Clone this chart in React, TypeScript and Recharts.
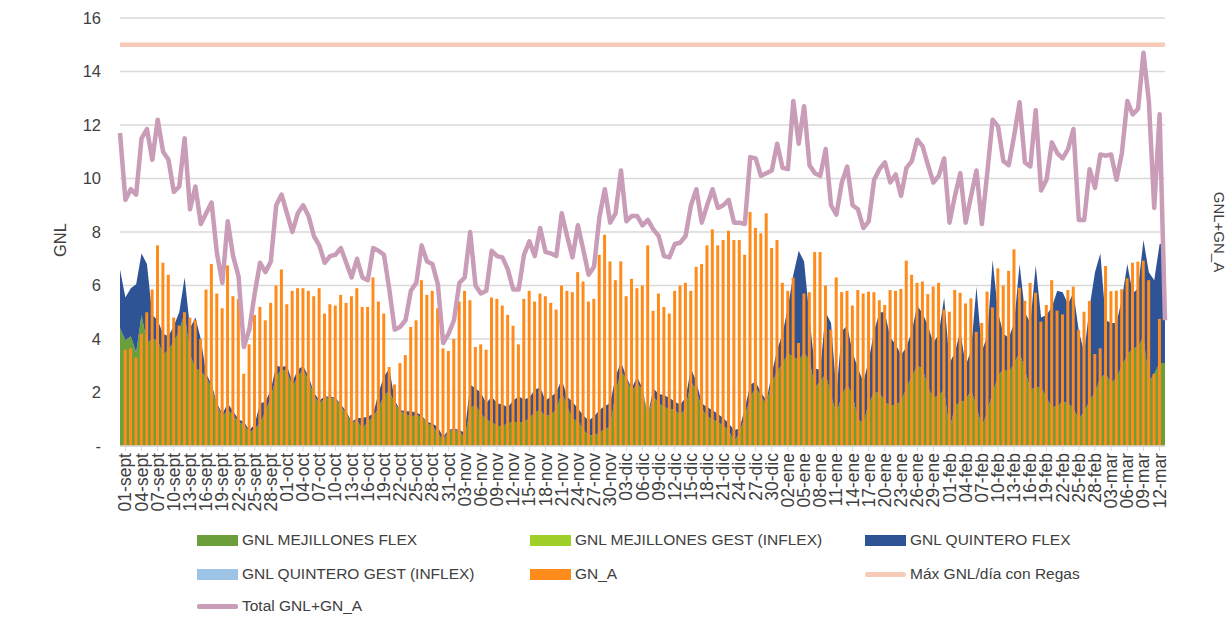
import React from 'react';
import { ComposedChart, Area, Bar, Line, XAxis, YAxis, CartesianGrid } from 'recharts';

// Row 0 = 31-ago (plot left edge), rows 1..193 = 01-sept .. 12-mar, row 194 = 13-mar (plot right edge)
const FIRST_DAY = -1;
const TICK_STEP = 3;
const TICK_LABELS = [
  '01-sept', '04-sept', '07-sept', '10-sept', '13-sept', '16-sept', '19-sept', '22-sept', '25-sept', '28-sept',
  '01-oct', '04-oct', '07-oct', '10-oct', '13-oct', '16-oct', '19-oct', '22-oct', '25-oct', '28-oct', '31-oct',
  '03-nov', '06-nov', '09-nov', '12-nov', '15-nov', '18-nov', '21-nov', '24-nov', '27-nov', '30-nov',
  '03-dic', '06-dic', '09-dic', '12-dic', '15-dic', '18-dic', '21-dic', '24-dic', '27-dic', '30-dic',
  '02-ene', '05-ene', '08-ene', '11-ene', '14-ene', '17-ene', '20-ene', '23-ene', '26-ene', '29-ene',
  '01-feb', '04-feb', '07-feb', '10-feb', '13-feb', '16-feb', '19-feb', '22-feb', '25-feb', '28-feb',
  '03-mar', '06-mar', '09-mar', '12-mar',
];

const GNL_MEJILLONES_FLEX = [
  4.4,
  3.95, 4.1, 3.5, 4.9, 3.85, 4.0, 3.95, 3.4, 3.6, 3.9,
  4.3, 5.0, 3.4, 2.9, 2.8, 2.55, 2.2, 1.5, 1.1, 1.35,
  1.15, 0.9, 0.8, 0.5, 0.65, 0.85, 1.3, 1.8, 2.6, 2.85,
  2.8, 2.2, 2.6, 2.85, 2.45, 1.9, 1.55, 1.8, 1.8, 1.75,
  1.5, 1.2, 0.85, 0.95, 0.65, 0.9, 1.1, 1.4, 1.9, 2.05,
  1.6, 1.3, 1.2, 1.1, 1.15, 1.1, 0.85, 0.75, 0.5, 0.2,
  0.55, 0.6, 0.55, 0.3, 1.4, 1.55, 1.2, 1.0, 0.9, 0.75,
  0.75, 0.85, 0.9, 0.9, 0.9, 1.05, 1.25, 1.35, 1.1, 1.2,
  1.35, 2.0, 1.5, 1.0, 0.95, 0.6, 0.4, 0.4, 0.5, 0.65,
  0.7, 2.0, 2.8, 2.5, 2.05, 2.35, 2.1, 1.1, 1.85, 1.6,
  1.45, 1.4, 1.35, 1.15, 1.4, 2.4, 2.1, 1.4, 1.1, 1.0,
  0.9, 0.75, 0.6, 0.15, 0.5, 1.1, 1.8, 2.2, 1.85, 1.55,
  2.4, 2.75, 3.1, 3.45, 3.35, 3.2, 3.5, 3.2, 2.2, 2.4,
  2.7, 1.9, 1.2, 1.9, 2.3, 1.9, 1.0, 0.85, 1.6, 2.0,
  2.0, 1.65, 1.5, 1.55, 1.65, 2.2, 2.6, 3.0, 2.9, 2.2,
  1.8, 1.9, 2.1, 0.6, 1.5, 1.65, 1.7, 2.1, 1.5, 0.7,
  1.3, 2.0, 2.6, 2.9, 2.75, 3.1, 3.5, 2.85, 2.1, 2.2,
  2.2, 1.8, 1.45, 1.5, 1.65, 1.6, 1.4, 1.0, 1.3, 1.7,
  2.0, 2.55, 2.7, 2.35, 2.55, 3.0, 3.4, 3.65, 3.7, 4.1,
  2.4, 2.7, 3.1,
  3.1,
];

const GNL_QUINTERO_FLEX = [
  2.2,
  1.6, 1.8, 2.55, 2.3, 2.95, 0.9, 0.75, 0.8, 0.5, 0.6,
  0.7, 1.3, 1.0, 1.9, 1.2, 0.15, 0.1, 0.1, 0.1, 0.25,
  0.15, 0.1, 0.1, 0.1, 0.15, 0.75, 0.35, 0.3, 0.4, 0.1,
  0.2, 0.2, 0.25, 0.15, 0.15, 0.1, 0.15, 0.05, 0.05, 0.05,
  0.05, 0.1, 0.05, 0.1, 0.4, 0.2, 0.1, 0.6, 0.7, 0.85,
  0.1, 0.05, 0.1, 0.2, 0.1, 0.05, 0.05, 0.1, 0.2, 0.15,
  0.05, 0.05, 0.05, 0.2, 0.9, 0.6, 0.8, 0.6, 0.95, 0.85,
  0.8, 0.6, 0.8, 0.95, 0.85, 0.75, 0.85, 0.85, 0.6, 0.65,
  0.65, 0.5, 0.35, 0.65, 0.45, 0.55, 0.55, 0.7, 0.85, 0.85,
  0.9, 0.6, 0.35, 0.1, 0.1, 0.25, 0.05, 0.05, 0.3, 0.35,
  0.45, 0.4, 0.3, 0.4, 0.4, 0.5, 0.3, 0.2, 0.35, 0.35,
  0.3, 0.3, 0.25, 0.45, 0.15, 0.3, 0.5, 0.2, 0.15, 0.15,
  0.3, 0.85, 1.1, 1.75, 3.05, 4.1, 3.4, 1.6, 0.7, 0.45,
  2.3, 2.7, 0.8, 2.4, 2.2, 1.6, 1.9, 1.55, 1.6, 2.3,
  3.0, 3.35, 2.55, 2.25, 1.75, 1.5, 1.7, 2.25, 2.05, 2.3,
  2.05, 2.3, 3.45, 2.5, 2.0, 2.65, 1.3, 1.5, 4.45, 2.85,
  2.8, 4.95, 2.4, 1.3, 1.3, 1.5, 3.3, 2.15, 2.5, 4.55,
  2.6, 3.1, 3.75, 4.3, 4.1, 3.7, 4.35, 3.3, 2.2, 3.5,
  4.5, 4.65, 2.0, 2.25, 2.05, 2.5, 3.4, 2.05, 2.2, 3.6,
  4.1, 3.5, 4.45,
  4.45,
];

const GN_A = [
  null,
  3.6, 3.65, 3.3, 4.2, 5.0, 5.85, 7.5, 6.85, 6.4, 4.8,
  4.5, 5.0, 4.8, 4.7, 4.0, 5.85, 6.8, 5.7, 5.15, 6.75,
  5.6, 5.5, 2.7, 3.8, 4.9, 5.2, 4.7, 5.35, 6.0, 6.6,
  5.3, 5.8, 5.9, 5.9, 5.8, 5.6, 5.9, 4.95, 5.3, 5.25,
  5.65, 5.35, 5.6, 5.9, 5.2, 5.2, 6.3, 5.4, 4.95, 2.95,
  2.3, 3.1, 3.4, 4.45, 4.7, 6.2, 5.65, 5.8, 5.15, 3.65,
  3.55, 4.0, 5.4, 5.8, 5.45, 3.7, 3.8, 3.6, 5.55, 5.5,
  5.25, 4.9, 4.5, 3.8, 5.5, 5.8, 5.4, 5.7, 5.6, 5.35,
  5.1, 6.0, 5.8, 5.75, 6.5, 6.15, 5.4, 5.5, 7.15, 7.9,
  6.9, 6.2, 6.9, 5.6, 6.25, 5.9, 6.0, 7.5, 5.05, 5.7,
  5.2, 4.95, 5.8, 6.0, 6.1, 5.8, 6.7, 6.8, 7.5, 8.1,
  7.5, 7.7, 8.05, 7.7, 7.7, 7.15, 8.75, 8.15, 7.95, 8.7,
  7.4, 7.7, 6.1, 5.8, 6.3, 3.85, 5.7, 5.75, 7.25, 7.25,
  6.0, 4.35, 6.3, 5.75, 5.8, 5.25, 5.83, 5.7, 5.77, 5.75,
  5.45, 5.27, 5.83, 5.8, 5.87, 6.93, 6.4, 6.1, 6.15, 5.68,
  5.96, 6.1, 5.1, 5.02, 5.83, 5.73, 5.33, 5.52, 4.27, 4.6,
  5.77, 5.18, 6.64, 6.0, 6.55, 7.35, 5.92, 5.43, 6.1, 5.73,
  4.65, 5.27, 6.2, 5.06, 4.92, 5.83, 5.96, 4.34, 5.02, 5.42,
  3.44, 3.65, 6.73, 5.79, 5.81, 5.86, 6.27, 6.85, 6.89, 6.93,
  6.2, 2.7, 4.75,
  null,
];

const TOTAL_GNL_GN_A = [
  11.7,
  9.2, 9.6, 9.4, 11.5, 11.85, 10.7, 12.2, 11.0, 10.7, 9.5,
  9.7, 11.5, 8.85, 9.7, 8.3, 8.7, 9.1, 7.2, 6.1, 8.4,
  7.1, 6.35, 3.7, 4.35, 5.7, 6.85, 6.5, 6.9, 9.0, 9.4,
  8.7, 8.0, 8.7, 9.0, 8.6, 7.85, 7.5, 6.85, 7.1, 7.15,
  7.4, 6.85, 6.3, 7.0, 6.3, 6.2, 7.4, 7.3, 7.15, 5.85,
  4.35, 4.45, 4.7, 5.8, 6.1, 7.5, 6.9, 6.8, 6.05, 3.85,
  4.2, 4.7, 6.1, 6.3, 8.0, 6.0, 5.7, 5.8, 7.3, 7.1,
  7.05, 6.6, 5.85, 5.85, 7.15, 7.65, 7.1, 8.15, 7.25, 7.2,
  7.1, 8.7, 7.85, 7.05, 8.25, 7.35, 6.4, 6.7, 8.55, 9.6,
  8.35, 8.7, 10.3, 8.4, 8.6, 8.6, 8.25, 8.45, 8.1, 7.85,
  7.1, 7.05, 7.55, 7.6, 7.85, 9.0, 9.6, 8.35, 9.0, 9.6,
  8.9, 9.0, 9.2, 8.35, 8.35, 8.3, 10.8, 10.75, 10.1, 10.2,
  10.3, 11.3, 10.4, 10.35, 12.9, 11.3, 12.7, 10.5, 10.2, 10.1,
  11.1, 9.0, 8.65, 9.85, 10.45, 9.0, 8.85, 8.15, 8.4, 9.95,
  10.35, 10.6, 9.85, 10.15, 9.35, 10.4, 10.65, 11.45, 11.2, 10.5,
  9.85, 10.1, 10.75, 8.35, 9.35, 10.2, 8.35, 9.35, 10.3, 8.3,
  10.2, 12.2, 11.95, 10.65, 10.5, 11.6, 12.85, 10.6, 10.45, 12.55,
  9.55, 9.95, 11.35, 10.95, 10.75, 11.1, 11.85, 8.45, 8.45, 10.35,
  9.65, 10.9, 10.85, 10.9, 9.95, 10.95, 12.9, 12.4, 12.6, 14.7,
  12.9, 8.9, 12.4,
  4.7,
];

const MAX_GNL_DIA_CON_REGAS = 15;
const Y_TICKS = [0, 2, 4, 6, 8, 10, 12, 14, 16];

const data = TOTAL_GNL_GN_A.map((total, i) => ({
  day: FIRST_DAY + i,
  mejFlex: GNL_MEJILLONES_FLEX[i],
  quinFlex: GNL_QUINTERO_FLEX[i],
  gnA: GN_A[i],
  total,
  maxRegas: MAX_GNL_DIA_CON_REGAS,
}));

const X_TICKS = TICK_LABELS.map((_, j) => j * TICK_STEP);
const LAST_DAY = FIRST_DAY + TOTAL_GNL_GN_A.length - 1;

const FONT = "'Liberation Sans', Arial, sans-serif";
const TEXT = '#404040';
const C = {
  mejFlex: '#6B9F3A',
  mejGest: '#9FD02A',
  quinFlex: '#2E5496',
  quinGest: '#9DC3E6',
  gnA: '#FF8C1A',
  max: '#F8CBB8',
  total: '#C99CB8',
  grid: '#D9D9D9',
};

const LEGEND = [
  { name: 'GNL MEJILLONES FLEX', color: C.mejFlex, kind: 'rect' },
  { name: 'GNL MEJILLONES GEST (INFLEX)', color: C.mejGest, kind: 'rect' },
  { name: 'GNL QUINTERO FLEX', color: C.quinFlex, kind: 'rect' },
  { name: 'GNL QUINTERO GEST (INFLEX)', color: C.quinGest, kind: 'rect' },
  { name: 'GN_A', color: C.gnA, kind: 'rect' },
  { name: 'Máx GNL/día con Regas', color: C.max, kind: 'line' },
  { name: 'Total GNL+GN_A', color: C.total, kind: 'line' },
];
const LEGEND_COLS = [197, 530, 865];
const LEGEND_ROWS = [540, 574, 606];

const XTick = (props: any) => {
  const { x, y, payload } = props;
  const label = TICK_LABELS[Math.round(payload.value / TICK_STEP)];
  return (
    <text
      x={x}
      y={y}
      transform={`rotate(-90 ${x} ${y})`}
      textAnchor="end"
      dominantBaseline="central"
      fontSize={17.5}
      fontFamily={FONT}
      fill={TEXT}
    >
      {label}
    </text>
  );
};

const yFmt = (v: number) => (v === 0 ? '-' : String(v));

export default function App() {
  return (
    <div style={{ position: 'relative', width: 1228, height: 623, background: '#fff' }}>
      <style>{'body{margin:0;}'}</style>
      <ComposedChart
        width={1228}
        height={623}
        data={data}
        margin={{ top: 18, right: 0, bottom: 0, left: 0 }}
      >
        <CartesianGrid vertical={false} stroke={C.grid} strokeWidth={1.3} />
        <XAxis
          type="number"
          dataKey="day"
          domain={[FIRST_DAY, LAST_DAY]}
          ticks={X_TICKS}
          interval={0}
          height={177}
          tick={<XTick />}
          tickSize={5}
          tickMargin={2}
          axisLine={{ stroke: C.grid, strokeWidth: 1.3 }}
          tickLine={{ stroke: C.grid }}
        />
        <YAxis
          yAxisId={0}
          domain={[0, 16]}
          ticks={Y_TICKS}
          width={120}
          axisLine={false}
          tickLine={false}
          tickSize={0}
          tickMargin={19}
          tickFormatter={yFmt}
          tick={{ fontSize: 16.5, fill: TEXT, fontFamily: FONT }}
        />
        <YAxis
          yAxisId="right"
          orientation="right"
          domain={[0, 16]}
          ticks={Y_TICKS}
          width={63}
          axisLine={false}
          tickLine={false}
          tickSize={0}
          tickMargin={23}
          tickFormatter={yFmt}
          tick={{ fontSize: 16.5, fill: TEXT, fontFamily: FONT, textAnchor: 'start' }}
        />
        <Area
          type="linear"
          dataKey="mejFlex"
          name="GNL MEJILLONES FLEX"
          stackId="gnl"
          stroke="none"
          fill={C.mejFlex}
          fillOpacity={1}
          dot={false}
          activeDot={false}
          isAnimationActive={false}
        />
        <Area
          type="linear"
          dataKey="quinFlex"
          name="GNL QUINTERO FLEX"
          stackId="gnl"
          stroke="none"
          fill={C.quinFlex}
          fillOpacity={1}
          dot={false}
          activeDot={false}
          isAnimationActive={false}
        />
        <Bar dataKey="gnA" name="GN_A" fill={C.gnA} barSize={3} isAnimationActive={false} />
        <Line
          type="linear"
          dataKey="maxRegas"
          name="Máx GNL/día con Regas"
          stroke={C.max}
          strokeWidth={4.5}
          dot={false}
          activeDot={false}
          isAnimationActive={false}
        />
        <Line
          type="linear"
          dataKey="total"
          name="Total GNL+GN_A"
          stroke={C.total}
          strokeWidth={4.5}
          strokeLinejoin="round"
          dot={false}
          activeDot={false}
          isAnimationActive={false}
        />
      </ComposedChart>
      <svg
        width={1228}
        height={623}
        style={{ position: 'absolute', left: 0, top: 0, pointerEvents: 'none' }}
      >
        <text
          x={60}
          y={240}
          transform="rotate(-90 60 240)"
          textAnchor="middle"
          dominantBaseline="central"
          fontSize={16.5}
          fontFamily={FONT}
          fill={TEXT}
        >
          GNL
        </text>
        <text
          x={1219}
          y={232}
          transform="rotate(90 1219 232)"
          textAnchor="middle"
          dominantBaseline="central"
          fontSize={15}
          fontFamily={FONT}
          fill={TEXT}
        >
          GNL+GN_A
        </text>
      </svg>
      {LEGEND.map((item, i) => {
        const left = LEGEND_COLS[i % 3];
        const cy = LEGEND_ROWS[Math.floor(i / 3)];
        return (
          <div
            key={item.name}
            style={{
              position: 'absolute',
              left,
              top: cy - 12,
              height: 24,
              display: 'flex',
              alignItems: 'center',
              fontFamily: FONT,
              fontSize: 15.5,
              color: TEXT,
              whiteSpace: 'nowrap',
            }}
          >
            <span
              style={{
                display: 'inline-block',
                width: 41,
                height: item.kind === 'rect' ? 11 : 5,
                background: item.color,
                borderRadius: item.kind === 'line' ? 2 : 0,
                marginRight: 4,
              }}
            />
            {item.name}
          </div>
        );
      })}
    </div>
  );
}
